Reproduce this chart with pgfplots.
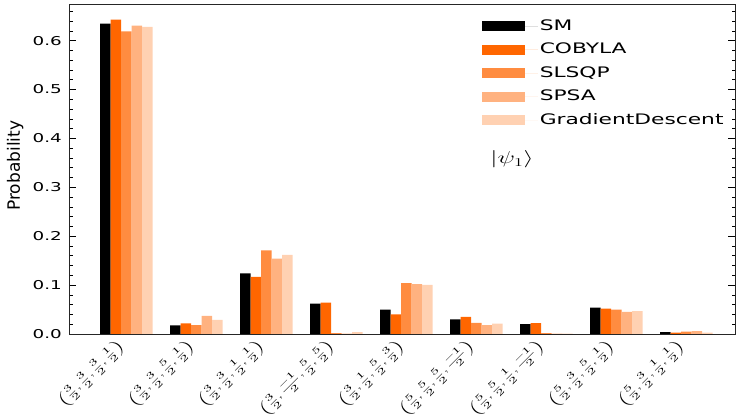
\documentclass[border=0pt]{standalone}
\usepackage{pgfplots}
\pgfplotsset{compat=1.18}
\usepackage{pgfplotstable}
\usepackage{graphicx}
\usepackage{fontspec}
\setmainfont{DejaVu Sans}[FakeStretch=1.5]
\newfontfamily\ylabfont{DejaVu Sans}
\definecolor{cob}{RGB}{255,102,0}
\definecolor{sls}{RGB}{255,140,64}
\definecolor{sps}{RGB}{255,178,128}
\definecolor{gdc}{RGB}{255,209,178}
\newcommand{\cm}{\mathord{,}\mkern2mu}
\pgfplotstableread{
x SM COBYLA SLSQP SPSA GD
0 0.635 0.643 0.619 0.631 0.628
1 0.0176 0.0217 0.018 0.037 0.029
2 0.124 0.117 0.171 0.154 0.162
3 0.062 0.064 0.002 0.001 0.004
4 0.050 0.040 0.104 0.102 0.1006
5 0.030 0.035 0.023 0.018 0.021
6 0.020 0.022 0.002 0.001 0.001
7 0.054 0.052 0.050 0.045 0.047
8 0.004 0.003 0.005 0.006 0.003
}\datatable
\pgfplotsset{mylegimg/.style={legend image code/.code={\fill[##1] (0pt,-5pt) rectangle (43pt,5pt); \path (0pt,0pt) -- (56pt,0pt);}}}
\begin{document}
\begin{tikzpicture}
\begin{axis}[
  name=ax,
  scale only axis, width=666pt, height=330pt,
  xmin=-0.814, xmax=8.7, ymin=0, ymax=0.675,
  ybar=0pt, bar width=0.15,
  xtick={0,1,2,3,4,5,6,7,8},
  xticklabels={
    {$\displaystyle\left(\frac{3}{2}\cm\frac{3}{2}\cm\frac{3}{2}\cm\frac{1}{2}\right)$},
    {$\displaystyle\left(\frac{3}{2}\cm\frac{3}{2}\cm\frac{5}{2}\cm\frac{1}{2}\right)$},
    {$\displaystyle\left(\frac{3}{2}\cm\frac{3}{2}\cm\frac{1}{2}\cm\frac{1}{2}\right)$},
    {$\displaystyle\left(\frac{3}{2}\cm\frac{-1}{2}\cm\frac{5}{2}\cm\frac{5}{2}\right)$},
    {$\displaystyle\left(\frac{3}{2}\cm\frac{1}{2}\cm\frac{5}{2}\cm\frac{3}{2}\right)$},
    {$\displaystyle\left(\frac{5}{2}\cm\frac{5}{2}\cm\frac{5}{2}\cm\frac{-1}{2}\right)$},
    {$\displaystyle\left(\frac{5}{2}\cm\frac{5}{2}\cm\frac{1}{2}\cm\frac{-1}{2}\right)$},
    {$\displaystyle\left(\frac{5}{2}\cm\frac{3}{2}\cm\frac{5}{2}\cm\frac{1}{2}\right)$},
    {$\displaystyle\left(\frac{5}{2}\cm\frac{3}{2}\cm\frac{1}{2}\cm\frac{1}{2}\right)$}},
  x tick style={draw=none},
  xticklabel style={anchor=east, inner sep=1pt, font=\fontsize{9.5}{11}\selectfont, xshift=-3pt, yshift=-8pt, rotate=45, xscale=1.7},
  ytick={0,0.1,0.2,0.3,0.4,0.5,0.6},
  minor ytick={0.02,0.04,0.06,0.08,0.12,0.14,0.16,0.18,0.22,0.24,0.26,0.28,0.32,0.34,0.36,0.38,0.42,0.44,0.46,0.48,0.52,0.54,0.56,0.58,0.62,0.64,0.66},
  tick align=inside,
  major tick length=7pt, minor tick length=3.5pt,
  y tick style={black, line width=0.7pt},
  yticklabel style={font=\fontsize{12.2}{14}\selectfont, xshift=-4pt, /pgf/number format/fixed, /pgf/number format/precision=1, /pgf/number format/fixed zerofill},
  /pgf/number format/assume math mode=true,
  axis line style={black!85, line width=0.9pt},
  ylabel={\ylabfont\fontsize{17}{19}\selectfont Probability},
  ylabel style={at={(axis description cs:-0.0811,0.51)}, anchor=center},
  legend style={at={(0.622,0.9636)}, anchor=north west, xshift=-2pt, yshift=-1pt, draw=none, fill=none, inner sep=0pt,
    font=\fontsize{14.5}{17}\selectfont, row sep=5.5pt,
    nodes={inner sep=2pt, text height=11pt, text depth=3pt}},
  legend cell align=left,
]
\addplot[fill=black, draw=none, mylegimg] table[x=x, y=SM] {\datatable};
\addplot[fill=cob, draw=none, mylegimg] table[x=x, y=COBYLA] {\datatable};
\addplot[fill=sls, draw=none, mylegimg] table[x=x, y=SLSQP] {\datatable};
\addplot[fill=sps, draw=none, mylegimg] table[x=x, y=SPSA] {\datatable};
\addplot[fill=gdc, draw=none, mylegimg] table[x=x, y=GD] {\datatable};
\legend{SM, COBYLA, SLSQP, SPSA, GradientDescent}
\node[anchor=west, inner sep=0pt] at (axis description cs:0.632,0.53) {\scalebox{1.5}[1]{\fontsize{18}{20}\selectfont$|\psi_1\rangle$}};
\end{axis}
\pgfresetboundingbox
\path[use as bounding box] (ax.south west) ++(-69.3pt,-83pt) rectangle ++(747pt,417pt);
\end{tikzpicture}
\end{document}
